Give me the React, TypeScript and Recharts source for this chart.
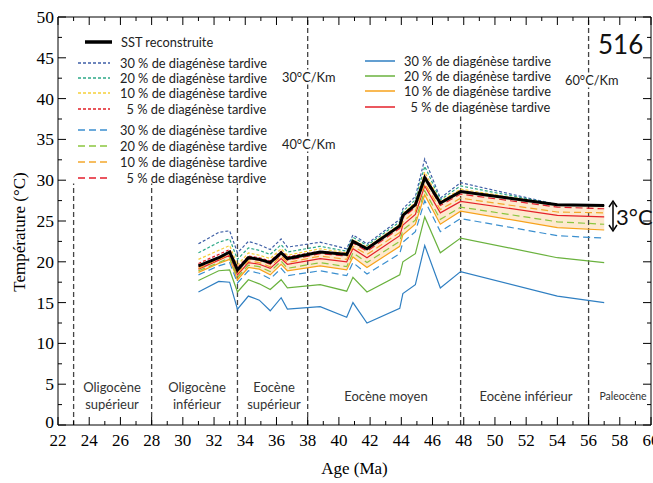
import React from 'react';
import { ComposedChart, Line, Area, XAxis, YAxis, ReferenceLine } from 'recharts';

// Ages (Ma) of the reconstructed points
const ages = [31, 32.3, 33, 33.5, 34.2, 34.9, 35.6, 36.3, 36.7, 38.8, 40.5, 40.9, 41.8, 43.9, 44.1, 44.9, 45.5, 46.5, 47.8, 54, 57];
const sst = [19.5, 20.5, 21.2, 19.0, 20.5, 20.3, 19.9, 21.1, 20.4, 21.2, 20.9, 22.5, 21.6, 24.4, 25.7, 27.0, 30.3, 27.2, 28.6, 27.0, 26.9];

// 30°C/Km (dotted)
const g30p30 = [22.2, 23.6, 23.8, 21.1, 22.5, 22.1, 21.5, 22.8, 21.8, 22.4, 21.6, 23.3, 22.2, 25.2, 26.5, 28.0, 32.6, 27.8, 29.7, 27.0, 26.9];
const g30p20 = [21.1, 22.4, 22.8, 20.3, 21.7, 21.4, 20.9, 22.1, 21.2, 21.9, 21.3, 23.0, 22.0, 24.9, 26.2, 27.6, 31.7, 27.6, 29.3, 27.0, 26.9];
const g30p10 = [20.3, 21.4, 22.0, 19.6, 21.1, 20.8, 20.4, 21.6, 20.8, 21.6, 21.1, 22.7, 21.8, 24.6, 25.9, 27.3, 31.0, 27.4, 28.9, 27.0, 26.9];
const g30p5 = [19.8, 20.9, 21.5, 19.3, 20.7, 20.5, 20.1, 21.3, 20.6, 21.3, 21.0, 22.6, 21.7, 24.5, 25.8, 27.1, 30.6, 27.3, 28.7, 27.0, 26.9];

// 40°C/Km (dashed)
const g40p30 = [18.4, 19.5, 19.9, 17.4, 18.9, 18.6, 17.9, 19.2, 18.3, 18.9, 18.3, 19.9, 18.5, 21.0, 22.4, 23.7, 27.5, 23.7, 25.3, 23.2, 22.9];
const g40p20 = [18.9, 19.9, 20.5, 18.1, 19.6, 19.4, 18.8, 20.1, 19.2, 19.9, 19.4, 21.1, 19.9, 22.5, 23.9, 25.1, 28.7, 25.2, 26.7, 24.9, 24.6];
const g40p10 = [19.2, 20.3, 20.9, 18.6, 20.1, 19.9, 19.4, 20.7, 19.9, 20.7, 20.3, 21.9, 20.9, 23.6, 24.9, 26.2, 29.6, 26.4, 27.8, 26.1, 26.0];
const g40p5 = [19.4, 20.4, 21.1, 18.9, 20.4, 20.2, 19.7, 20.9, 20.2, 21.0, 20.7, 22.3, 21.3, 24.1, 25.4, 26.7, 30.1, 26.9, 28.3, 26.7, 26.5];

// 60°C/Km (solid)
const g60p30 = [16.3, 17.6, 17.5, 14.2, 15.8, 15.3, 14.0, 15.6, 14.2, 14.5, 13.2, 15.0, 12.5, 14.3, 16.1, 17.2, 22.0, 16.8, 18.8, 15.8, 15.0];
const g60p20 = [17.7, 18.9, 19.0, 16.3, 17.8, 17.3, 16.6, 17.8, 16.8, 17.2, 16.4, 18.1, 16.3, 18.4, 20.0, 21.0, 25.5, 21.1, 22.9, 20.5, 19.9];
const g60p10 = [18.7, 19.8, 20.3, 17.8, 19.3, 19.1, 18.4, 19.7, 18.9, 19.5, 19.0, 20.6, 19.3, 21.9, 23.3, 24.6, 28.2, 24.6, 26.2, 24.2, 23.9];
const g60p5 = [19.1, 20.2, 20.8, 18.4, 19.9, 19.7, 19.2, 20.4, 19.7, 20.4, 20.0, 21.6, 20.5, 23.2, 24.5, 25.8, 29.3, 26.0, 27.4, 25.7, 25.5];

// stage boundaries and how high their dashed lines go
const boundaryAges = [23, 28, 33.5, 38, 47.8, 56];
const boundaryTops = [29.6, 29.6, 29.6, 50, 37.8, 50];

const xTicks = Array.from({ length: 39 }, (_, i) => 22 + i);
const yTicks = Array.from({ length: 21 }, (_, i) => i * 2.5);

const data = ages.map((age, i) => ({
  age,
  sst: sst[i],
  g30p30: g30p30[i], g30p20: g30p20[i], g30p10: g30p10[i], g30p5: g30p5[i],
  g40p30: g40p30[i], g40p20: g40p20[i], g40p10: g40p10[i], g40p5: g40p5[i],
  g60p30: g60p30[i], g60p20: g60p20[i], g60p10: g60p10[i], g60p5: g60p5[i],
  band: [g60p10[i], sst[i]],
}));

const DOT = '3 2';
const DASH = '7 4';

const series = [
  { key: 'g60p30', color: '#2f7fc2', dash: undefined },
  { key: 'g60p20', color: '#6ab23e', dash: undefined },
  { key: 'g60p10', color: '#f7a21b', dash: undefined },
  { key: 'g60p5', color: '#e4202a', dash: undefined },
  { key: 'g40p30', color: '#3b8fcf', dash: DASH },
  { key: 'g40p20', color: '#8cc63f', dash: DASH },
  { key: 'g40p10', color: '#f4a82c', dash: DASH },
  { key: 'g40p5', color: '#e31e2d', dash: DASH },
  { key: 'g30p30', color: '#3e5fa6', dash: DOT },
  { key: 'g30p20', color: '#2ea988', dash: DOT },
  { key: 'g30p10', color: '#f5cf3a', dash: DOT },
  { key: 'g30p5', color: '#e21f26', dash: DOT },
];

const serif = '"Liberation Serif", "Times New Roman", serif';
const sans = 'Lato, "Open Sans", sans-serif';

const BottomTick = (props: any) => {
  const { x, y, payload } = props;
  const major = payload.value % 2 === 0;
  return (
    <g>
      <line x1={x} y1={y} x2={x} y2={y - (major ? 8 : 4)} stroke="#000" />
      {major && (
        <text x={x} y={y + 21} textAnchor="middle" fontFamily={serif} fontSize={17} fill="#000">
          {payload.value}
        </text>
      )}
    </g>
  );
};

const TopTick = (props: any) => {
  const { x, y, payload } = props;
  const major = payload.value % 2 === 0;
  return <line x1={x} y1={y} x2={x} y2={y + (major ? 8 : 4)} stroke="#000" />;
};

const LeftTick = (props: any) => {
  const { x, y, payload } = props;
  const major = payload.value % 5 === 0;
  // the 0 label sits a little higher, as in the original, to clear the 22
  const dy = payload.value === 0 ? 3 : 6;
  return (
    <g>
      <line x1={x} y1={y} x2={x + (major ? 8 : 4)} y2={y} stroke="#000" />
      {major && (
        <text x={x - 4} y={y + dy} textAnchor="end" fontFamily={serif} fontSize={17.5} fill="#000">
          {payload.value}
        </text>
      )}
    </g>
  );
};

const RightTick = (props: any) => {
  const { x, y, payload } = props;
  const major = payload.value % 5 === 0;
  return <line x1={x} y1={y} x2={x - (major ? 8 : 4)} y2={y} stroke="#000" />;
};

const legendText: React.CSSProperties = {
  position: 'absolute',
  fontFamily: sans,
  fontSize: 12.8,
  color: '#222',
  whiteSpace: 'pre',
  lineHeight: '13px',
  transform: 'translateY(-50%)',
};

function LegendRow({ x1, x2, tx, y, color, dash, width = 1.5, label }: any) {
  return (
    <>
      <svg style={{ position: 'absolute', left: x1, top: y - 3, overflow: 'visible' }} width={x2 - x1} height={6}>
        <line x1={0} y1={3} x2={x2 - x1} y2={3} stroke={color} strokeWidth={width} strokeDasharray={dash} />
      </svg>
      <div style={{ ...legendText, left: tx, top: y }}>{label}</div>
    </>
  );
}

const pctLabels = ['30 % de diagénèse tardive', '20 % de diagénèse tardive', '10 % de diagénèse tardive', '  5 % de diagénèse tardive'];

const eraLabels = [
  { x: 112, text: 'Oligocène\nsupérieur', size: 13 },
  { x: 197, text: 'Oligocène\ninférieur', size: 13 },
  { x: 274, text: 'Eocène\nsupérieur', size: 13 },
  { x: 386, text: 'Eocène moyen', size: 13 },
  { x: 526, text: 'Eocène inférieur', size: 13 },
  { x: 623, text: 'Paleocène', size: 10.5 },
];

export default function App() {
  return (
    <div style={{ position: 'absolute', left: 0, top: 0, width: 653, height: 483, background: '#fff' }}>
      <ComposedChart width={653} height={483} data={data} margin={{ top: 0, right: 0, bottom: 0, left: 0 }}>
        <XAxis
          dataKey="age"
          type="number"
          domain={[22, 60]}
          allowDataOverflow
          ticks={xTicks}
          interval={0}
          tickSize={0}
          tickMargin={0}
          tickLine={false}
          tick={<BottomTick />}
          height={58}
          axisLine={{ stroke: '#000' }}
          label={{ value: 'Age (Ma)', position: 'insideBottom', offset: 9, fontFamily: serif, fontSize: 17, fill: '#000' }}
        />
        <XAxis
          xAxisId="top"
          orientation="top"
          dataKey="age"
          type="number"
          domain={[22, 60]}
          allowDataOverflow
          ticks={xTicks}
          interval={0}
          tickSize={0}
          tickMargin={0}
          tickLine={false}
          tick={<TopTick />}
          height={17}
          axisLine={{ stroke: '#000' }}
        />
        <YAxis
          type="number"
          domain={[0, 50]}
          allowDataOverflow
          ticks={yTicks}
          interval={0}
          tickSize={0}
          tickMargin={0}
          tickLine={false}
          tick={<LeftTick />}
          width={58}
          axisLine={{ stroke: '#000' }}
        />
        <YAxis
          yAxisId="right"
          orientation="right"
          type="number"
          domain={[0, 50]}
          allowDataOverflow
          ticks={yTicks}
          interval={0}
          tickSize={0}
          tickMargin={0}
          tickLine={false}
          tick={<RightTick />}
          width={2}
          axisLine={{ stroke: '#000' }}
        />

        {boundaryAges.map((a, i) => (
          <ReferenceLine
            key={a}
            segment={[{ x: a, y: 0 }, { x: a, y: boundaryTops[i] }]}
            stroke="#444"
            strokeWidth={1.3}
            strokeDasharray="5 3"
          />
        ))}

        <Area dataKey="band" stroke="none" fill="#fbd3a0" fillOpacity={0.5} isAnimationActive={false} />

        {series.map((s) => (
          <Line
            key={s.key}
            dataKey={s.key}
            stroke={s.color}
            strokeWidth={1.2}
            strokeDasharray={s.dash}
            dot={false}
            isAnimationActive={false}
          />
        ))}
        <Line dataKey="sst" stroke="#000" strokeWidth={3} dot={false} isAnimationActive={false} />
      </ComposedChart>

      {/* y axis title */}
      <div
        style={{
          position: 'absolute', left: 20, top: 232, fontFamily: serif, fontSize: 17, color: '#000',
          transform: 'translate(-50%, -50%) rotate(-90deg)', whiteSpace: 'nowrap',
        }}
      >
        Température (°C)
      </div>

      {/* left legends */}
      <LegendRow x1={85} x2={112} tx={121} y={42} color="#000" width={3.5} label="SST reconstruite" />
      {[0, 1, 2, 3].map((i) => (
        <LegendRow key={'d' + i} x1={78} x2={110} tx={120} y={62.5 + i * 15.4} color={series[8 + i].color} dash={DOT} label={pctLabels[i]} />
      ))}
      {[0, 1, 2, 3].map((i) => (
        <LegendRow key={'l' + i} x1={78} x2={110} tx={120} y={130 + i * 16} color={series[4 + i].color} dash={DASH} label={pctLabels[i]} />
      ))}

      {/* right legend (60°C/Km) */}
      <div style={{ position: 'absolute', left: 358, top: 50, width: 206, height: 66, background: '#fff' }} />
      {[0, 1, 2, 3].map((i) => (
        <LegendRow key={'s' + i} x1={365} x2={395} tx={404} y={60.5 + i * 15.4} color={series[i].color} label={pctLabels[i]} />
      ))}

      {/* gradient labels */}
      <div style={{ ...legendText, left: 282, top: 77, background: '#fff', padding: '1px 0' }}>30°C/Km</div>
      <div style={{ ...legendText, left: 282, top: 144, background: '#fff', padding: '1px 0' }}>40°C/Km</div>
      <div style={{ ...legendText, left: 565, top: 80, background: '#fff', padding: '1px 0' }}>60°C/Km</div>
      <div style={{ ...legendText, left: 598, top: 44, fontSize: 26, lineHeight: '28px', color: '#111' }}>516</div>

      {/* 3°C annotation */}
      <svg style={{ position: 'absolute', left: 606, top: 198, overflow: 'visible' }} width={14} height={36}>
        <line x1={7} y1={5} x2={7} y2={31} stroke="#000" strokeWidth={1.5} />
        <path d="M3,9 L7,3 L11,9" fill="none" stroke="#000" strokeWidth={1.5} />
        <path d="M3,27 L7,33 L11,27" fill="none" stroke="#000" strokeWidth={1.5} />
      </svg>
      <div style={{ ...legendText, left: 616, top: 217, fontSize: 22, lineHeight: '24px', color: '#111' }}>3°C</div>

      {/* stage labels */}
      {eraLabels.map((e) => (
        <div
          key={e.text}
          style={{
            position: 'absolute', left: e.x, top: 396, transform: 'translate(-50%, -50%)', fontFamily: sans,
            fontSize: e.size, lineHeight: '17px', color: '#333', textAlign: 'center', whiteSpace: 'pre',
          }}
        >
          {e.text}
        </div>
      ))}
    </div>
  );
}
